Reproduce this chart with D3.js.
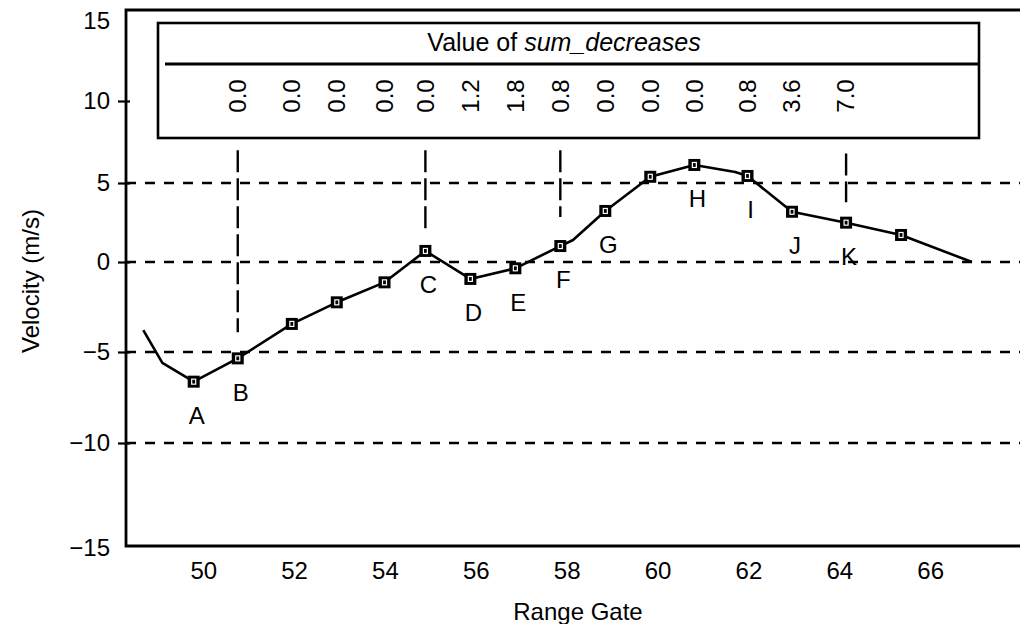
<!DOCTYPE html>
<html><head><meta charset="utf-8">
<script src="https://cdn.jsdelivr.net/npm/d3@7"></script>
<style>
body{margin:0;background:#fff}
svg text{font-family:"Liberation Sans",Arial,Helvetica,sans-serif;fill:#000}
</style>
</head><body>
<svg id="chart" width="1020" height="624"></svg>
<script>
// ---- data ----
const traceGates = [48.68, 49.10, 49.79, 50.76, 51.95, 52.94, 53.99, 54.89, 55.88, 56.87, 57.86, 58.14, 58.85, 59.84, 60.81, 61.71, 61.98, 62.96, 64.15, 65.36, 66.92];
const traceVelocities = [-3.78, -5.60, -6.63, -5.35, -3.44, -2.24, -1.13, 0.70, -0.94, -0.35, 1.01, 1.39, 3.23, 5.38, 6.10, 5.67, 5.43, 3.18, 2.49, 1.71, 0.0];
const markerGates = [49.79, 50.76, 51.95, 52.94, 53.99, 54.89, 55.88, 56.87, 57.86, 58.85, 59.84, 60.81, 61.98, 62.96, 64.15, 65.36];
const markerVelocities = [-6.63, -5.35, -3.44, -2.24, -1.13, 0.70, -0.94, -0.35, 1.01, 3.23, 5.38, 6.10, 5.43, 3.18, 2.49, 1.71];
const markerLabels = ["A", "B", "", "", "", "C", "D", "E", "F", "G", "", "H", "I", "J", "K", ""];
const sumDecreases = ["0.0", "0.0", "0.0", "0.0", "0.0", "1.2", "1.8", "0.8", "0.0", "0.0", "0.0", "0.8", "3.6", "7.0"]; // markers B..K
const dividerGates = [50.76, 54.89, 57.86, 64.15];
const dividerTop = [7.0, 7.0, 7.0, 6.8];
const dividerBottom = [-3.9, 2.0, 2.85, 3.78];
const gridValues = [5, 0, -5, -10];
const yTickValues = [15, 10, 5, 0, -5, -10, -15];
const xTickValues = [50, 52, 54, 56, 58, 60, 62, 64, 66];

// ---- layout ----
const svg = d3.select("#chart");
const frameL = 126, frameT = 10, frameB = 546, frameR = 1020;
const x = d3.scaleLinear().domain([48.3, 68.0]).range([frameL, 1021]);
const y = d3.scaleLinear().domain([-15, -10, -5, 0, 5, 10, 15]).range([548, 443, 352, 262, 183, 101, 21]);

// gridlines
svg.append("g").selectAll("line").data(gridValues).join("line")
  .attr("x1", frameL).attr("x2", frameR)
  .attr("y1", d => y(d)).attr("y2", d => y(d))
  .attr("stroke", "#000").attr("stroke-width", 2.4).attr("stroke-dasharray", "10,9");

// y axis
const yAxis = svg.append("g").attr("transform", `translate(${frameL},0)`)
  .call(d3.axisLeft(y).tickValues(yTickValues).tickSize(8).tickPadding(8));
yAxis.select(".domain").remove();
yAxis.selectAll(".tick line").attr("x1", 4).attr("stroke-width", 2.2)
  .attr("display", d => Math.abs(d) === 15 ? "none" : null);
yAxis.selectAll(".tick text").attr("font-size", 24).attr("x", -16);

// x axis
const xAxis = svg.append("g").attr("transform", `translate(0,${frameB})`)
  .call(d3.axisBottom(x).tickValues(xTickValues).tickSize(0).tickPadding(16));
xAxis.select(".domain").remove();
xAxis.selectAll(".tick text").attr("font-size", 24);

// frame
svg.append("path")
  .attr("d", `M${frameR},${frameT}H${frameL}V${frameB}H${frameR}`)
  .attr("fill", "none").attr("stroke", "#000").attr("stroke-width", 2.8);

// axis titles
svg.append("text").attr("transform", "translate(31,281) rotate(-90)")
  .attr("text-anchor", "middle").attr("dy", "0.35em").attr("font-size", 24).text("Velocity (m/s)");
svg.append("text").attr("x", 578).attr("y", 612).attr("dy", "0.35em")
  .attr("text-anchor", "middle").attr("font-size", 24).text("Range Gate");

// header box
svg.append("rect").attr("x", 158).attr("y", 23).attr("width", 821).attr("height", 115)
  .attr("fill", "#fff").attr("stroke", "#000").attr("stroke-width", 2.6);
svg.append("line").attr("x1", 165).attr("x2", 979).attr("y1", 64).attr("y2", 64)
  .attr("stroke", "#000").attr("stroke-width", 3);
const title = svg.append("text").attr("x", 564).attr("y", 42).attr("dy", "0.35em")
  .attr("text-anchor", "middle").attr("font-size", 25);
title.append("tspan").text("Value of ");
title.append("tspan").attr("font-style", "italic").text("sum_decreases");

svg.append("g").selectAll("text").data(sumDecreases).join("text")
  .attr("transform", (d, i) => `translate(${x(markerGates[i + 1])},96) rotate(-90)`)
  .attr("text-anchor", "middle").attr("dy", "0.35em").attr("font-size", 24)
  .text(d => d);

// vertical dividers
svg.append("g").selectAll("line").data(dividerGates).join("line")
  .attr("x1", d => x(d)).attr("x2", d => x(d))
  .attr("y1", (d, i) => y(dividerTop[i])).attr("y2", (d, i) => y(dividerBottom[i]))
  .attr("stroke", "#000").attr("stroke-width", 2.4).attr("stroke-dasharray", "22,6");

// trace line
const line = d3.line().x(d => x(d[0])).y(d => y(d[1]));
svg.append("path").datum(traceGates.map((g, i) => [g, traceVelocities[i]]))
  .attr("d", line).attr("fill", "none").attr("stroke", "#000")
  .attr("stroke-width", 2.6).attr("stroke-linejoin", "round");

// markers
const m = svg.append("g").selectAll("g").data(markerGates).join("g")
  .attr("transform", (d, i) => `translate(${x(d)},${y(markerVelocities[i])})`);
m.append("rect").attr("x", -6).attr("y", -6).attr("width", 12).attr("height", 12).attr("fill", "#000");
m.append("rect").attr("x", -2).attr("y", -2.5).attr("width", 4).attr("height", 5)
  .attr("fill", "none").attr("stroke", "#fff").attr("stroke-width", 1.2);

// point labels
svg.append("g").selectAll("text").data(markerLabels).join("text")
  .attr("x", (d, i) => x(markerGates[i]) + 3)
  .attr("y", (d, i) => y(markerVelocities[i]) + 34)
  .attr("dy", "0.35em").attr("text-anchor", "middle").attr("font-size", 24)
  .text(d => d);
</script>
</body></html>
